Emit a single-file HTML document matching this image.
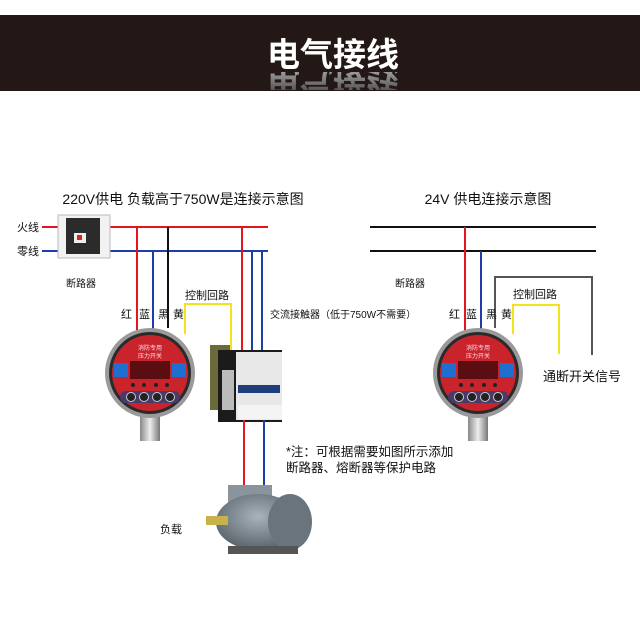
<!DOCTYPE html>
<html><head><meta charset="utf-8"><style>
body{margin:0;background:#fff;}
svg{display:block;}
text{font-family:"Liberation Sans","Noto Sans CJK SC",sans-serif;}
</style></head><body>
<svg width="640" height="632" viewBox="0 0 640 632" xmlns="http://www.w3.org/2000/svg">
<defs>
<linearGradient id="refl" x1="0" y1="1" x2="0" y2="0"><stop offset="0" stop-color="#bbb"/><stop offset="1" stop-color="#333"/></linearGradient>
<linearGradient id="metal" x1="0" y1="0" x2="1" y2="0"><stop offset="0" stop-color="#888"/><stop offset="0.5" stop-color="#eee"/><stop offset="1" stop-color="#777"/></linearGradient>
<radialGradient id="motor" cx="0.5" cy="0.4" r="0.6"><stop offset="0" stop-color="#a9b3bb"/><stop offset="1" stop-color="#5a646c"/></radialGradient>
<clipPath id="band"><rect x="0" y="72" width="640" height="18"/></clipPath>
<g id="gauge">
<rect x="-10" y="38" width="20" height="30" fill="url(#metal)"/>
<circle r="45" fill="#9a9a9a"/>
<circle r="41" fill="#2a2a2a"/>
<circle r="38" fill="#c9232b"/>
<rect x="-36" y="-10" width="14" height="14" fill="#1f6fd1"/>
<rect x="-20" y="-12" width="40" height="18" fill="#5a0e12"/>
<rect x="22" y="-10" width="14" height="14" fill="#1f6fd1"/>
<text x="0" y="-23" font-size="6" fill="#fde" text-anchor="middle">消防专用</text>
<text x="0" y="-15" font-size="6" fill="#fde" text-anchor="middle">压力开关</text>
<circle cx="-17" cy="12" r="2" fill="#222"/><circle cx="-6" cy="12" r="2" fill="#222"/><circle cx="6" cy="12" r="2" fill="#222"/><circle cx="17" cy="12" r="2" fill="#222"/>
<rect x="-30" y="18" width="60" height="12" rx="6" fill="#4a3a6a"/>
<circle cx="-19" cy="24" r="4.5" fill="#222" stroke="#ccc"/><circle cx="-6" cy="24" r="4.5" fill="#222" stroke="#ccc"/><circle cx="7" cy="24" r="4.5" fill="#222" stroke="#ccc"/><circle cx="20" cy="24" r="4.5" fill="#222" stroke="#ccc"/>
</g>
</defs>
<!-- header -->
<rect x="0" y="15" width="640" height="76" fill="#231815"/>
<text x="333" y="66" font-size="33" font-weight="bold" fill="#fff" text-anchor="middle">电气接线</text>
<g clip-path="url(#band)"><g transform="translate(0,130) scale(1,-1)"><text x="333" y="60" font-size="33" font-weight="bold" fill="url(#refl)" text-anchor="middle">电气接线</text></g></g>

<!-- titles -->
<text x="183" y="204" font-size="14" fill="#111" text-anchor="middle">220V供电 负载高于750W是连接示意图</text>
<text x="488" y="204" font-size="14" fill="#111" text-anchor="middle">24V 供电连接示意图</text>

<text x="17" y="231" font-size="11" fill="#111">火线</text>
<text x="17" y="255" font-size="11" fill="#111">零线</text>
<line x1="42" y1="227" x2="268" y2="227" stroke="#e3161e" stroke-width="2"/>
<line x1="42" y1="251" x2="268" y2="251" stroke="#1d3ea8" stroke-width="2"/>
<!-- breaker -->
<rect x="58" y="215" width="52" height="43" fill="#f2f2f2" stroke="#bbb"/>
<rect x="66" y="218" width="34" height="36" fill="#2b2b2b"/>
<rect x="74" y="233" width="12" height="10" fill="#eee"/><rect x="77" y="235" width="5" height="5" fill="#d22"/>
<text x="66" y="287" font-size="10" fill="#111">断路器</text>

<line x1="137" y1="227" x2="137" y2="334" stroke="#e3161e" stroke-width="2"/>
<line x1="153" y1="251" x2="153" y2="330" stroke="#1d3ea8" stroke-width="2"/>
<line x1="168" y1="227" x2="168" y2="328" stroke="#111" stroke-width="2"/>
<polyline points="185,334 185,304 231,304 231,355" fill="none" stroke="#f3e31a" stroke-width="2"/>
<line x1="242" y1="227" x2="242" y2="355" stroke="#e3161e" stroke-width="2"/>
<line x1="252" y1="251" x2="252" y2="350" stroke="#1d3ea8" stroke-width="2"/>
<line x1="262" y1="251" x2="262" y2="350" stroke="#1d3ea8" stroke-width="2"/>
<text x="121" y="318" font-size="11" fill="#111">红</text>
<text x="139" y="318" font-size="11" fill="#111">蓝</text>
<text x="158" y="318" font-size="11" fill="#111">黑</text>
<text x="173" y="318" font-size="11" fill="#111">黄</text>
<text x="185" y="299" font-size="11" fill="#111">控制回路</text>
<text x="270" y="318" font-size="10" fill="#111">交流接触器（低于750W不需要）</text>

<use href="#gauge" x="150" y="373"/>
<!-- contactor -->
<rect x="210" y="345" width="20" height="65" fill="#6b6a3a"/>
<rect x="218" y="350" width="64" height="72" fill="#1b1b1b"/>
<rect x="236" y="352" width="46" height="68" fill="#e8e8e8"/>
<rect x="222" y="370" width="12" height="40" fill="#bbb"/>
<rect x="238" y="385" width="42" height="8" fill="#1d3e7a"/>
<rect x="238" y="405" width="44" height="14" fill="#f4f4f4"/>

<line x1="244" y1="420" x2="244" y2="488" stroke="#e3161e" stroke-width="2"/>
<line x1="264" y1="420" x2="264" y2="488" stroke="#1d3ea8" stroke-width="2"/>
<!-- motor -->
<rect x="228" y="485" width="44" height="18" fill="#8a949c"/>
<ellipse cx="258" cy="522" rx="42" ry="28" fill="url(#motor)"/>
<ellipse cx="290" cy="522" rx="22" ry="28" fill="#6a747c"/>
<rect x="206" y="516" width="22" height="9" fill="#c8b24a"/>
<rect x="228" y="546" width="70" height="8" fill="#555"/>
<text x="160" y="533" font-size="11" fill="#111">负载</text>
<text x="286" y="456" font-size="12.5" fill="#111">*注：可根据需要如图所示添加</text>
<text x="286" y="472" font-size="12.5" fill="#111">断路器、熔断器等保护电路</text>

<!-- right -->
<line x1="370" y1="227" x2="596" y2="227" stroke="#111" stroke-width="2"/>
<line x1="370" y1="251" x2="596" y2="251" stroke="#111" stroke-width="2"/>
<line x1="465" y1="227" x2="465" y2="334" stroke="#e3161e" stroke-width="2"/>
<line x1="481" y1="251" x2="481" y2="330" stroke="#1d3ea8" stroke-width="2"/>
<polyline points="495,328 495,277 592,277 592,355" fill="none" stroke="#555" stroke-width="2"/>
<polyline points="513,334 513,305 559,305 559,354" fill="none" stroke="#f3e31a" stroke-width="2"/>
<text x="395" y="287" font-size="10" fill="#111">断路器</text>
<text x="449" y="318" font-size="11" fill="#111">红</text>
<text x="466" y="318" font-size="11" fill="#111">蓝</text>
<text x="486" y="318" font-size="11" fill="#111">黑</text>
<text x="501" y="318" font-size="11" fill="#111">黄</text>
<text x="513" y="298" font-size="11" fill="#111">控制回路</text>
<text x="543" y="381" font-size="13" fill="#111">通断开关信号</text>
<use href="#gauge" x="478" y="373"/>
</svg>
</body></html>
